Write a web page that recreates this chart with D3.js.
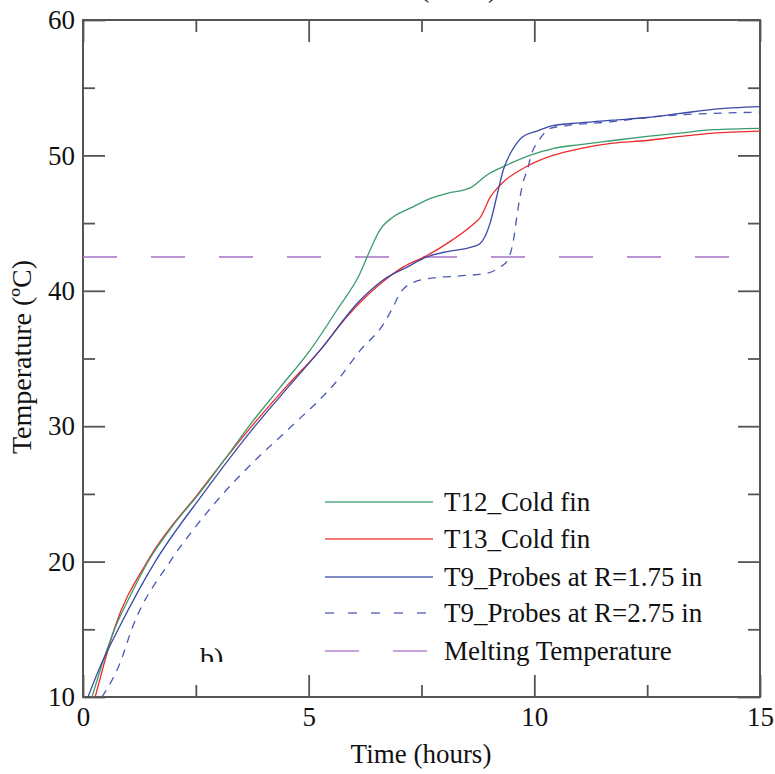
<!DOCTYPE html>
<html>
<head>
<meta charset="utf-8">
<script src="https://cdn.jsdelivr.net/npm/d3@7"></script>
<style>
  body { margin: 0; background: #fff; }
  svg { display: block; }
  text { font-family: "Liberation Serif", "Times New Roman", serif; fill: #111; }
</style>
</head>
<body>
<svg id="chart" width="775" height="774"></svg>
<script>
// ---------- data ----------
const xMajorTicks = [0, 5, 10, 15];
const xMinorTicks = [2.5, 7.5, 12.5];
const yMajorTicks = [10, 20, 30, 40, 50, 60];
const yMinorTicks = [15, 25, 35, 45, 55];

const meltingTemp = 42.5;

const t12Time = [0.2, 0.45, 0.71, 1.05, 1.46, 2.0, 2.59, 3.15, 3.70, 4.35, 5.03, 5.63, 6.14, 6.36, 6.58, 6.87, 7.25, 7.76, 8.07, 8.58, 8.95, 9.40, 9.90, 10.41, 11.01, 11.74, 12.50, 13.23, 13.96, 15.0];
const t12Temp = [10, 12.7, 15.1, 17.5, 20.1, 22.7, 25.1, 27.6, 30.1, 32.8, 35.6, 38.6, 41.3, 43.0, 44.5, 45.45, 46.1, 46.9, 47.2, 47.6, 48.55, 49.3, 50.0, 50.5, 50.8, 51.1, 51.4, 51.65, 51.9, 52.0];

const t13Time = [0.27, 0.7, 1.44, 2.57, 3.74, 4.5, 5.25, 5.85, 6.51, 7.09, 7.62, 8.07, 8.64, 8.80, 9.02, 9.24, 9.84, 10.41, 11.01, 11.74, 12.50, 13.23, 13.96, 15.0];
const t13Temp = [10, 15.1, 20.1, 25.1, 30.0, 32.9, 35.6, 38.1, 40.3, 41.75, 42.6, 43.5, 44.9, 45.4, 46.9, 47.8, 49.2, 50.0, 50.5, 50.9, 51.1, 51.4, 51.65, 51.8];

const t9aTime = [0.11, 0.4, 0.78, 1.6, 2.66, 3.81, 4.55, 5.25, 6.14, 6.65, 7.18, 7.62, 8.07, 8.58, 8.80, 9.02, 9.17, 9.31, 9.53, 9.75, 10.06, 10.41, 11.01, 11.74, 12.50, 13.23, 13.96, 15.0];
const t9aTemp = [10, 12.4, 15.0, 20.0, 25.0, 30.0, 32.9, 35.6, 39.3, 40.8, 41.75, 42.5, 42.9, 43.2, 43.5, 45.0, 47.0, 48.9, 50.5, 51.4, 51.8, 52.2, 52.4, 52.6, 52.8, 53.1, 53.4, 53.6];

const t9bTime = [0.42, 0.82, 1.09, 1.93, 2.5, 3.10, 3.85, 4.59, 5.69, 6.14, 6.65, 6.87, 7.02, 7.31, 7.76, 8.35, 8.95, 9.24, 9.40, 9.53, 9.64, 9.75, 9.84, 9.97, 10.06, 10.35, 10.72, 11.74, 12.50, 13.23, 13.96, 15.0];
const t9bTemp = [10, 12.5, 15.1, 20.0, 22.6, 25.0, 27.6, 29.9, 33.6, 35.6, 37.5, 38.8, 39.8, 40.6, 40.95, 41.1, 41.3, 41.75, 42.2, 43.6, 46.1, 48.0, 48.9, 50.4, 50.9, 52.0, 52.2, 52.5, 52.8, 53.0, 53.1, 53.2];

const seriesNames = ["T12_Cold fin", "T13_Cold fin", "T9_Probes at R=1.75 in", "T9_Probes at R=2.75 in", "Melting Temperature"];

// ---------- layout ----------
const svg = d3.select("#chart");
const L = 83, R = 760, T = 20, B = 697;
const x = d3.scaleLinear().domain([0, 15]).range([L, R]);
const y = d3.scaleLinear().domain([10, 60]).range([B, T]);

const colors = ["#3a9c6c", "#ee2b2b", "#3a49a6", "#4a59b6", "#a673c8"];

// clip
svg.append("defs").append("clipPath").attr("id", "plotclip")
  .append("rect").attr("x", L).attr("y", T).attr("width", R - L).attr("height", B - T);
svg.select("defs").append("clipPath").attr("id", "bclip")
  .append("rect").attr("x", 0).attr("y", 0).attr("width", 775).attr("height", 662);

const axisColor = "#555";
function styleAxis(g) {
  g.select(".domain").remove();
  g.selectAll(".tick line").attr("stroke", axisColor).attr("stroke-width", 1.8);
  g.selectAll(".tick text").style("font-size", "27px").attr("fill", "#111");
}

// bottom axis
svg.append("g").attr("transform", `translate(0,${B})`)
  .call(d3.axisBottom(x).tickValues(xMajorTicks).tickSize(-22).tickPadding(10).tickFormat(d3.format("d")))
  .call(styleAxis);
svg.append("g").attr("transform", `translate(0,${B})`)
  .call(d3.axisBottom(x).tickValues(xMinorTicks).tickSize(-12).tickFormat(""))
  .call(styleAxis);
// top axis
svg.append("g").attr("transform", `translate(0,${T})`)
  .call(d3.axisTop(x).tickValues(xMajorTicks).tickSize(-22).tickFormat(""))
  .call(styleAxis);
svg.append("g").attr("transform", `translate(0,${T})`)
  .call(d3.axisTop(x).tickValues(xMinorTicks).tickSize(-12).tickFormat(""))
  .call(styleAxis);
// left axis
svg.append("g").attr("transform", `translate(${L},0)`)
  .call(d3.axisLeft(y).tickValues(yMajorTicks).tickSize(-22).tickPadding(8).tickFormat(d3.format("d")))
  .call(styleAxis);
svg.append("g").attr("transform", `translate(${L},0)`)
  .call(d3.axisLeft(y).tickValues(yMinorTicks).tickSize(-12).tickFormat(""))
  .call(styleAxis);
// right axis
svg.append("g").attr("transform", `translate(${R},0)`)
  .call(d3.axisRight(y).tickValues(yMajorTicks).tickSize(-22).tickFormat(""))
  .call(styleAxis);
svg.append("g").attr("transform", `translate(${R},0)`)
  .call(d3.axisRight(y).tickValues(yMinorTicks).tickSize(-12).tickFormat(""))
  .call(styleAxis);

// frame
svg.append("rect").attr("x", L).attr("y", T).attr("width", R - L).attr("height", B - T)
  .attr("fill", "none").attr("stroke", axisColor).attr("stroke-width", 2);

// ---------- series ----------
const line = d3.line().x(d => x(d[0])).y(d => y(d[1])).curve(d3.curveMonotoneX);
const plot = svg.append("g").attr("clip-path", "url(#plotclip)");

// melting temperature
plot.append("path")
  .attr("d", line([[0, meltingTemp], [15, meltingTemp]]))
  .attr("fill", "none").attr("stroke", colors[4]).attr("stroke-width", 1.6)
  .attr("stroke-dasharray", "34,34");

const series = [
  { time: t9bTime, temp: t9bTemp, color: colors[3], dash: "8,7" },
  { time: t13Time, temp: t13Temp, color: colors[1], dash: null },
  { time: t12Time, temp: t12Temp, color: colors[0], dash: null },
  { time: t9aTime, temp: t9aTemp, color: colors[2], dash: null }
];
series.forEach(s => {
  const pts = d3.zip(s.time, s.temp);
  const p = plot.append("path").attr("d", line(pts))
    .attr("fill", "none").attr("stroke", s.color).attr("stroke-width", 1.3);
  if (s.dash) p.attr("stroke-dasharray", s.dash);
});

// ---------- legend ----------
const legRows = [502, 539, 577, 613, 651];
const legDash = [null, null, null, "9,14", "34,34"];
const legColor = [colors[0], colors[1], colors[2], colors[3], colors[4]];
seriesNames.forEach((name, i) => {
  const ln = svg.append("line").attr("x1", 325).attr("x2", 433)
    .attr("y1", legRows[i]).attr("y2", legRows[i])
    .attr("stroke", legColor[i]).attr("stroke-width", 1.5).attr("stroke-opacity", 0.85);
  if (legDash[i]) ln.attr("stroke-dasharray", legDash[i]);
  svg.append("text").attr("x", 444).attr("y", legRows[i] + 9)
    .style("font-size", "27px").text(name);
});

// ---------- labels ----------
svg.append("text").attr("x", 421).attr("y", 763).attr("text-anchor", "middle")
  .style("font-size", "27px").text("Time (hours)");
svg.append("text").attr("transform", "translate(31,357) rotate(-90)")
  .attr("text-anchor", "middle").style("font-size", "28px").text("Temperature (ºC)");

// panel label, clipped at the bottom as in the reference
svg.append("text").attr("x", 200).attr("y", 667).attr("clip-path", "url(#bclip)")
  .style("font-size", "28px").text("b)");

// cut-off title fragments at the very top (cropped in the reference too)
svg.append("text").attr("x", 420).attr("y", -3).style("font-size", "28px").text("(");
svg.append("text").attr("x", 488).attr("y", -3).style("font-size", "28px").text(")");
</script>
</body>
</html>
